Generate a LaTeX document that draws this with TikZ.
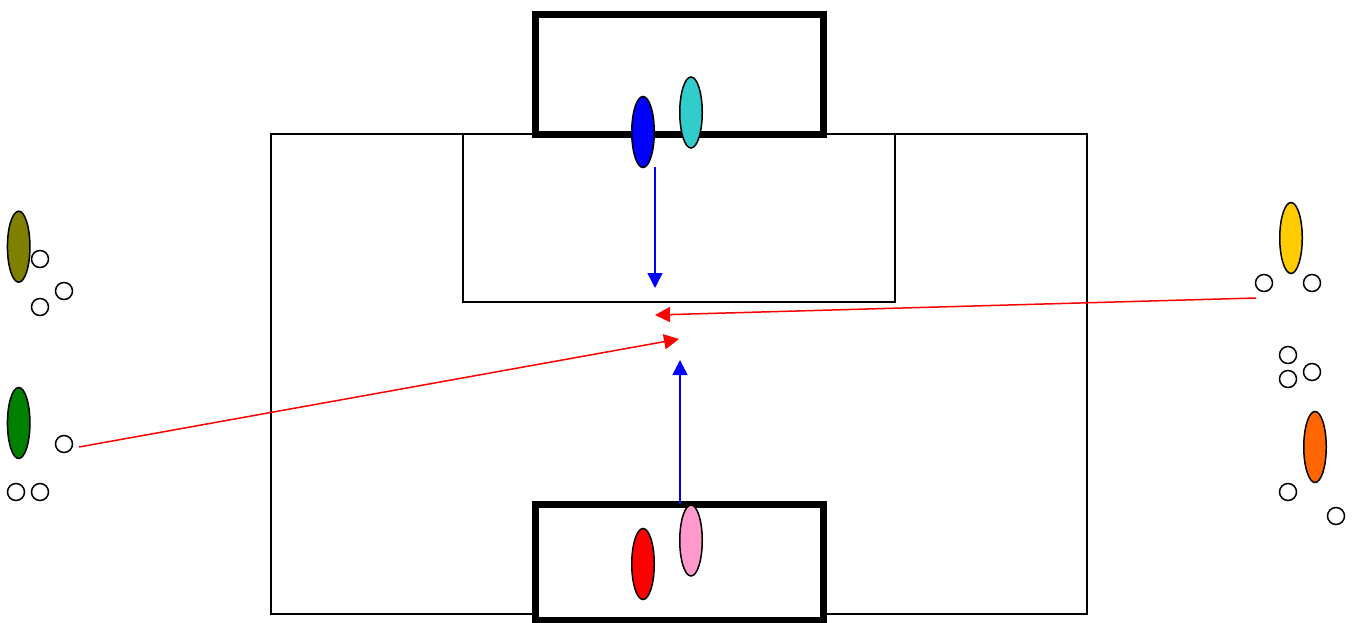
\documentclass[tikz,border=0pt]{standalone}
\usetikzlibrary{shapes.geometric,arrows.meta}
\definecolor{oliveplayer}{HTML}{808000}
\definecolor{greenplayer}{HTML}{008000}
\definecolor{cyanplayer}{HTML}{33CCCC}
\definecolor{pinkplayer}{HTML}{FF99CC}
\definecolor{yellowplayer}{HTML}{FFCC00}
\definecolor{orangeplayer}{HTML}{FF6600}

\begin{document}
\begin{tikzpicture}[x=1pt,y=-1pt,
	player/.style={ellipse,draw=black,line width=1.5pt,inner sep=0pt,minimum width=22.5pt,minimum height=71pt},
	cone/.style={circle,draw=black,line width=1.5pt,inner sep=0pt,minimum size=17pt},
	goal/.style={draw=black,fill=white,line width=7pt},
	pass/.style={line width=1.5pt,-{Triangle[length=15pt,width=15pt]}}]
	\useasboundingbox (0,0) rectangle (1356,623);
	% field
	\draw[line width=1.3pt] (271,134) rectangle (1087,614);
	\draw[line width=1.3pt] (463,134) rectangle (895,302);
	\draw[goal] (535.5,14.5) rectangle (823,134.5);
	\draw[goal] (535.5,504) rectangle (823,620);
	% players
	\node[player,fill=blue] (keepertop) at (643,132) {};
	\node[player,fill=cyanplayer] (cyan) at (691,112.5) {};
	\node[player,fill=red] (keeperbot) at (643,564) {};
	\node[player,fill=pinkplayer] (pink) at (691,540.5) {};
	\node[player,fill=oliveplayer] (olive) at (18.7,246.7) {};
	\node[player,fill=greenplayer] (green) at (18.7,423) {};
	\node[player,fill=yellowplayer] (yellow) at (1291,238) {};
	\node[player,fill=orangeplayer] (orange) at (1315,447) {};
	% cones
	\foreach \n/\x/\y in {a/40/259,b/64/291,c/40/307,d/64/444,e/16/492,f/40/492,
		g/1264/283,h/1312/283,i/1288/355,j/1288/379,k/1312/372,l/1288/492,m/1336/516}
		\node[cone] (cone\n) at (\x,\y) {};
	% passes
	\coordinate (topfrom) at (655,167);
	\coordinate (topto) at (655,288);
	\coordinate (rightfrom) at (1256,298);
	\coordinate (rightto) at (655,315);
	\coordinate (leftfrom) at (79,447);
	\coordinate (leftto) at (679,339);
	\coordinate (botfrom) at (680,504);
	\coordinate (botto) at (680,360);
	\draw[pass,blue] (topfrom) -- (topto);
	\draw[pass,red] (rightfrom) -- (rightto);
	\draw[pass,red] (leftfrom) -- (leftto);
	\draw[pass,blue] (botfrom) -- (botto);
\end{tikzpicture}
\end{document}
